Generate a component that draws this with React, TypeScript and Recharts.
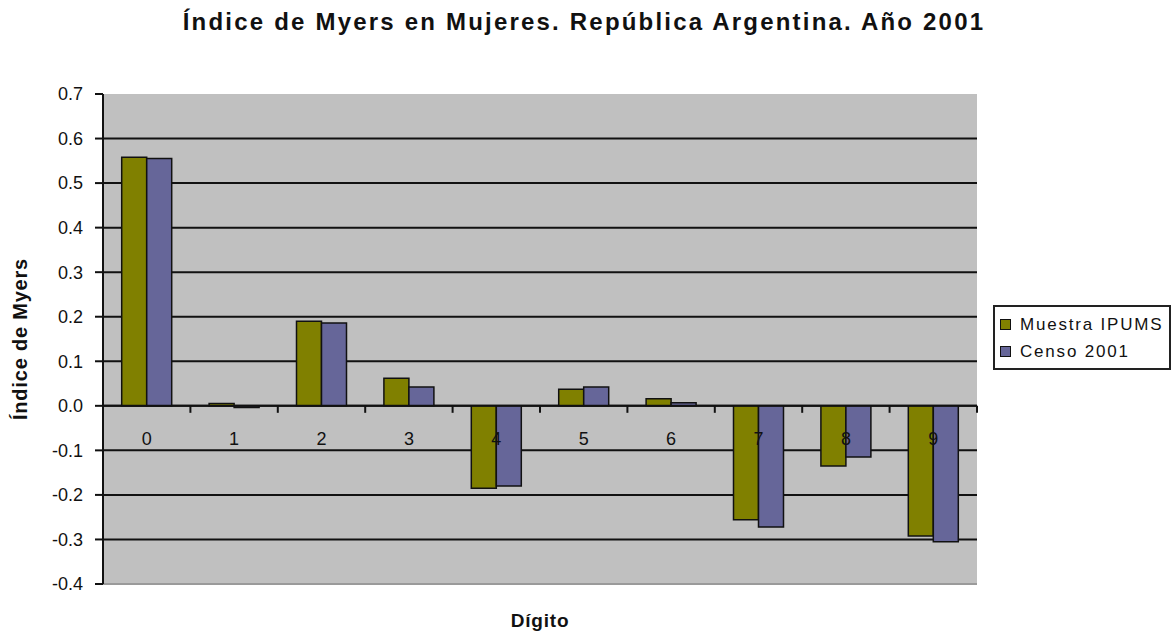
import React from "react";
import {
  BarChart,
  Bar,
  XAxis,
  YAxis,
  CartesianGrid,
  ReferenceLine,
  Legend,
} from "recharts";

const digits = ["0", "1", "2", "3", "4", "5", "6", "7", "8", "9"];
const muestraIpums = [0.558, 0.005, 0.19, 0.062, -0.185, 0.037, 0.016, -0.256, -0.135, -0.292];
const censo2001 = [0.555, -0.004, 0.186, 0.042, -0.18, 0.042, 0.007, -0.272, -0.115, -0.305];
const yTicks = [-0.4, -0.3, -0.2, -0.1, 0, 0.1, 0.2, 0.3, 0.4, 0.5, 0.6, 0.7];
const gridValues = [-0.3, -0.2, -0.1, 0, 0.1, 0.2, 0.3, 0.4, 0.5, 0.6];

const OLIVE = "#808000";
const PURPLE = "#666699";
const FONT = "'Liberation Sans', Arial, sans-serif";

// plot box geometry (set by margins + axis sizes below)
const W = 1172;
const H = 635;
const PLOT_TOP = 94;
const PLOT_LEFT = 103;
const PLOT_RIGHT = 977;
const PLOT_BOTTOM = 584;
const Y_MIN = -0.4;
const Y_MAX = 0.7;

const data = digits.map((d, i) => ({
  digit: d,
  ipums: muestraIpums[i],
  censo: censo2001[i],
}));

// Excel draws the category axis across the zero line, so labels/ticks go there
const ZeroAxisTick = (props: any) => {
  const { x, payload, index } = props;
  const band = (PLOT_RIGHT - PLOT_LEFT) / digits.length;
  const zeroY = PLOT_TOP + ((Y_MAX - 0) / (Y_MAX - Y_MIN)) * (PLOT_BOTTOM - PLOT_TOP);
  return (
    <g>
      <line x1={x - band / 2} x2={x - band / 2} y1={zeroY} y2={zeroY + 7} stroke="#111" strokeWidth={2} />
      {index === digits.length - 1 && (
        <line x1={x + band / 2} x2={x + band / 2} y1={zeroY} y2={zeroY + 7} stroke="#111" strokeWidth={2} />
      )}
      <text x={x} y={zeroY + 39} textAnchor="middle" fontSize={18} fontFamily={FONT} fill="#111">
        {payload.value}
      </text>
    </g>
  );
};

const LegendBox = () => (
  <div
    style={{
      border: "2px solid #222",
      background: "#fff",
      padding: "4px 0 4px 5px",
      fontFamily: FONT,
      fontSize: 17,
      letterSpacing: 1.8,
      color: "#111",
      boxSizing: "border-box",
      width: 178,
      height: 65,
    }}
  >
    {[
      { name: "Muestra IPUMS", color: OLIVE },
      { name: "Censo 2001", color: PURPLE },
    ].map((it) => (
      <div key={it.name} style={{ display: "flex", alignItems: "center", height: 27 }}>
        <span
          style={{
            display: "inline-block",
            width: 9,
            height: 9,
            background: it.color,
            border: "1px solid #111",
            marginRight: 9,
          }}
        />
        {it.name}
      </div>
    ))}
  </div>
);

export default function App() {
  return (
    <div style={{ position: "absolute", left: 0, top: 0, width: W, height: H, background: "#fff" }}>
      <div
        style={{
          position: "absolute",
          left: 0,
          top: 8,
          width: W - 4,
          textAlign: "center",
          fontFamily: FONT,
          fontWeight: "bold",
          fontSize: 24,
          letterSpacing: 2.2,
          color: "#111",
        }}
      >
        Índice de Myers en Mujeres. República Argentina. Año 2001
      </div>
      <BarChart
        width={W}
        height={H}
        data={data}
        margin={{ top: PLOT_TOP, right: W - PLOT_RIGHT, bottom: 0, left: 0 }}
        barCategoryGap="21.4%"
        barGap={0}
        style={{ position: "absolute", left: 0, top: 0 }}
      >
        <CartesianGrid
          vertical={false}
          horizontalValues={gridValues}
          stroke="#111"
          strokeWidth={2}
          fill="#C0C0C0"
          fillOpacity={1}
        />
        <XAxis
          dataKey="digit"
          height={H - PLOT_BOTTOM}
          axisLine={{ stroke: "#9a9a9a", strokeWidth: 2 }}
          tickLine={false}
          tick={<ZeroAxisTick />}
          interval={0}
          label={{
            value: "Dígito",
            position: "insideBottom",
            offset: 8,
            fontFamily: FONT,
            fontWeight: "bold",
            fontSize: 19,
            letterSpacing: 0.8,
            fill: "#111",
          }}
        />
        <XAxis xAxisId="top" orientation="top" dataKey="digit" height={0} tick={false} tickLine={false} axisLine={{ stroke: "#9a9a9a", strokeWidth: 2 }} />
        <YAxis
          domain={[Y_MIN, Y_MAX]}
          ticks={yTicks}
          interval={0}
          allowDataOverflow
          width={PLOT_LEFT}
          tickFormatter={(v: number) => v.toFixed(1)}
          axisLine={{ stroke: "#111", strokeWidth: 2 }}
          tickLine={{ stroke: "#111", strokeWidth: 2 }}
          tickSize={8}
          tickMargin={12}
          tick={{ fontSize: 18, fontFamily: FONT, fill: "#111" }}
          label={({ viewBox }: any) => (
            <text
              x={viewBox.x + 27}
              y={viewBox.y + viewBox.height / 2}
              transform={`rotate(-90, ${viewBox.x + 27}, ${viewBox.y + viewBox.height / 2})`}
              textAnchor="middle"
              fontFamily={FONT}
              fontWeight="bold"
              fontSize={20}
              letterSpacing={0.8}
              fill="#111"
            >
              Índice de Myers
            </text>
          )}
        />
        <YAxis yAxisId="right" orientation="right" width={0} domain={[Y_MIN, Y_MAX]} tick={false} tickLine={false} axisLine={{ stroke: "#9a9a9a", strokeWidth: 2 }} />
        <ReferenceLine y={0} stroke="#111" strokeWidth={2} />
        <Legend
          layout="horizontal"
          verticalAlign="middle"
          align="center"
          content={<LegendBox />}
          wrapperStyle={{ left: 993, top: 305, width: 178, height: 65 }}
        />
        <Bar dataKey="ipums" name="Muestra IPUMS" fill={OLIVE} stroke="#111" strokeWidth={1.5} isAnimationActive={false} />
        <Bar dataKey="censo" name="Censo 2001" fill={PURPLE} stroke="#111" strokeWidth={1.5} isAnimationActive={false} />
      </BarChart>
    </div>
  );
}
